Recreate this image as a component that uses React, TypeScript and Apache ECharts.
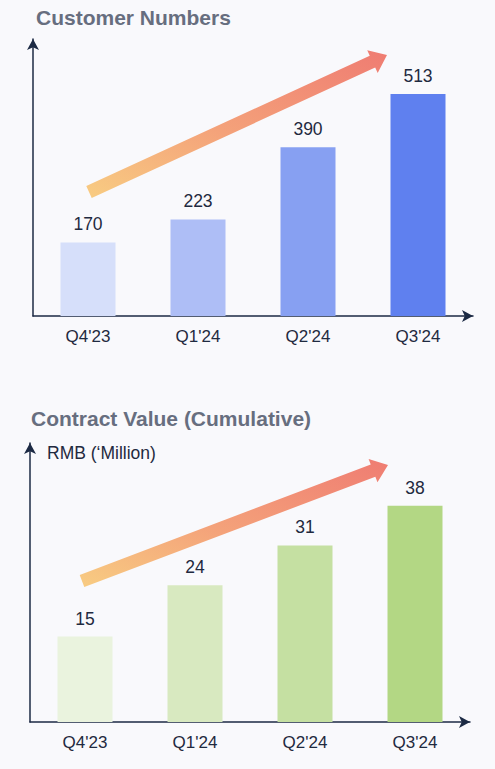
import React, { useEffect, useRef } from "react";
import * as echarts from "echarts";

const categories = ["Q4'23", "Q1'24", "Q2'24", "Q3'24"];
const customerValues = [170, 223, 390, 513];
const contractValues = [15, 24, 31, 38];
const customerColors = ["#d6dffa", "#aebef6", "#87a0f2", "#5f80ef"];
const contractColors = ["#eaf3de", "#d8e9c0", "#c5e0a2", "#b3d784"];

const FONT = "'Liberation Sans', Arial, Helvetica, sans-serif";
const AXIS_COLOR = "#1c2a44";
const TEXT_COLOR = "#1f2a40";

function arrowPoints(t: number[], p: number[], sw: number, hw: number, hl: number) {
  const dx = p[0] - t[0];
  const dy = p[1] - t[1];
  const L = Math.hypot(dx, dy);
  const ux = dx / L, uy = dy / L;
  const nx = -uy, ny = ux;
  const b = [p[0] - ux * hl, p[1] - uy * hl];
  return [
    [t[0] + nx * sw, t[1] + ny * sw],
    [b[0] + nx * sw, b[1] + ny * sw],
    [b[0] + nx * hw, b[1] + ny * hw],
    [p[0], p[1]],
    [b[0] - nx * hw, b[1] - ny * hw],
    [b[0] - nx * sw, b[1] - ny * sw],
    [t[0] - nx * sw, t[1] - ny * sw],
  ];
}

function arrowGradient() {
  return new echarts.graphic.LinearGradient(0, 1, 1, 0, [
    { offset: 0, color: "#f8cc82" },
    { offset: 0.45, color: "#f4a27a" },
    { offset: 1, color: "#ef7c72" },
  ]);
}

export default function App() {
  const ref = useRef<HTMLDivElement>(null);
  useEffect(() => {
    if (!ref.current) return;
    const chart = echarts.init(ref.current, undefined, { renderer: "svg" });
    const axisLine = {
      show: true,
      lineStyle: { color: AXIS_COLOR, width: 1.5 },
      symbol: ["none", "arrow"],
      symbolSize: [9, 11],
    };
    const xAxisBase = (gridIndex: number) => ({
      type: "category" as const,
      gridIndex,
      data: categories,
      axisLine,
      axisTick: { show: false },
      axisLabel: { margin: 12, fontSize: 17, color: TEXT_COLOR, fontFamily: FONT },
    });
    const yAxisBase = (gridIndex: number, max: number) => ({
      type: "value" as const,
      gridIndex,
      min: 0,
      max,
      axisLine,
      axisTick: { show: false },
      axisLabel: { show: false },
      splitLine: { show: false },
    });
    const barSeries = (idx: number, values: number[], colors: string[]) => ({
      type: "bar" as const,
      xAxisIndex: idx,
      yAxisIndex: idx,
      barWidth: 55,
      data: values.map((v, i) => ({ value: v, itemStyle: { color: colors[i] } })),
      label: {
        show: true,
        position: "top" as const,
        distance: 9,
        fontSize: 17.5,
        color: TEXT_COLOR,
        fontFamily: FONT,
      },
    });
    const titleStyle = { fontSize: 21, fontWeight: "bold" as const, color: "#676e7f", fontFamily: FONT };
    chart.setOption({
      animation: false,
      backgroundColor: "#f9f9fc",
      title: [
        { text: "Customer Numbers", left: 36, top: 7, padding: 0, textStyle: titleStyle },
        { text: "Contract Value (Cumulative)", left: 31, top: 408, padding: 0, textStyle: titleStyle },
      ],
      grid: [
        { left: 33, top: 39, width: 440, height: 277 },
        { left: 30, top: 443, width: 440, height: 279 },
      ],
      xAxis: [xAxisBase(0), xAxisBase(1)],
      yAxis: [yAxisBase(0, 640), yAxisBase(1, 49)],
      series: [
        barSeries(0, customerValues, customerColors),
        barSeries(1, contractValues, contractColors),
      ],
      graphic: [
        {
          type: "text",
          x: 47,
          y: 453,
          style: {
            text: "RMB (\u2018Million)",
            fill: TEXT_COLOR,
            fontSize: 17.5,
            fontFamily: FONT,
            verticalAlign: "middle",
          },
        },
        {
          type: "polygon",
          z: 10,
          shape: { points: arrowPoints([89, 192], [387, 55], 6.5, 12.5, 16) },
          style: { fill: arrowGradient() },
        },
        {
          type: "polygon",
          z: 10,
          shape: { points: arrowPoints([82, 581], [388, 465], 6.5, 12.5, 16) },
          style: { fill: arrowGradient() },
        },
      ],
    });
    return () => chart.dispose();
  }, []);
  return (
    <div
      ref={ref}
      style={{ position: "absolute", left: 0, top: 0, width: 495, height: 769, background: "#f9f9fc" }}
    />
  );
}
